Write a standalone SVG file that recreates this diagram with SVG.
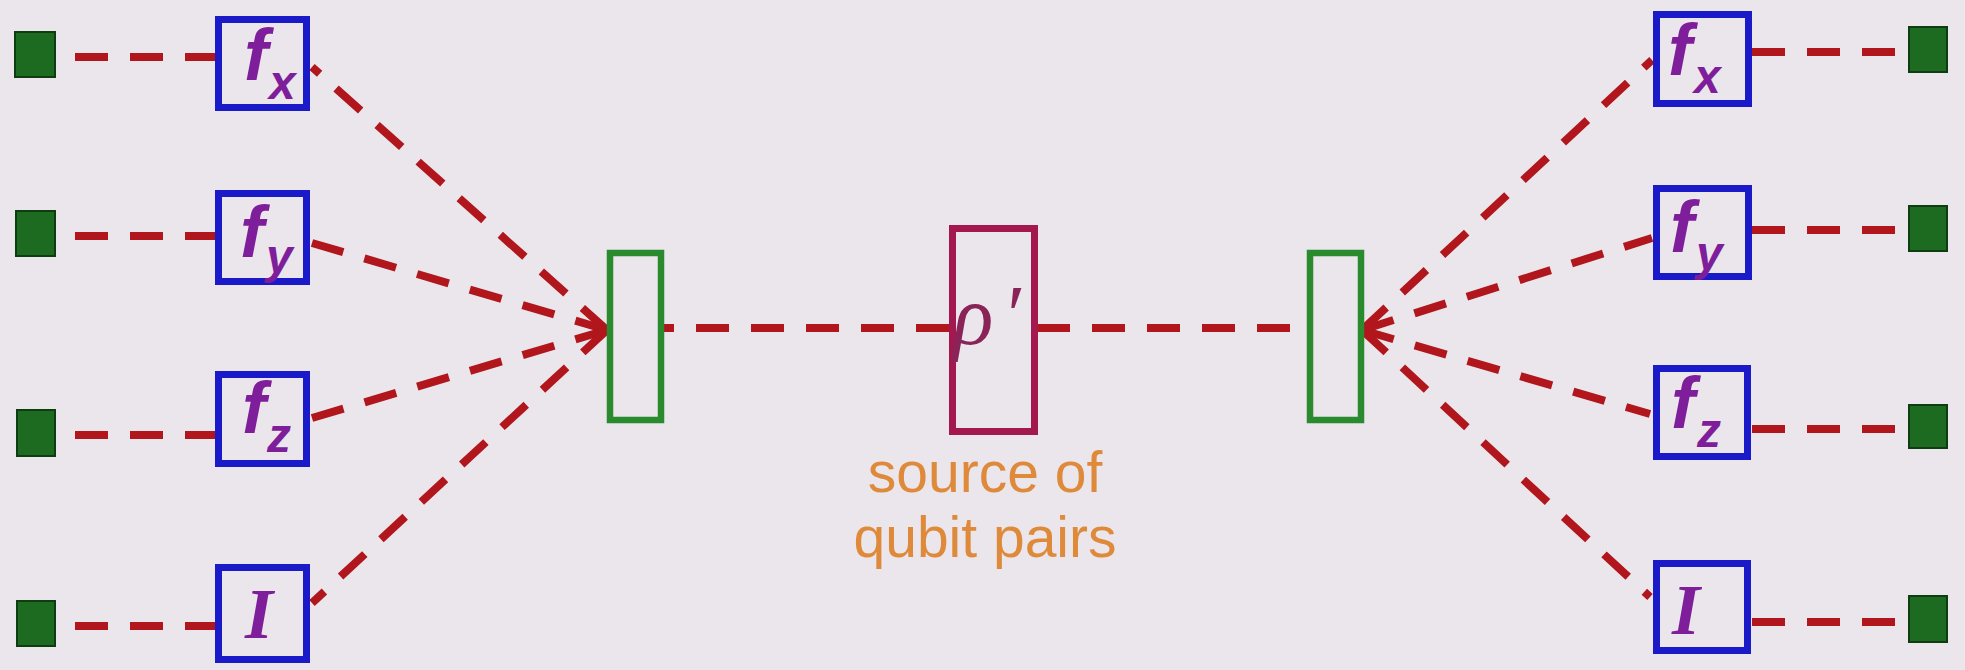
<svg xmlns="http://www.w3.org/2000/svg" width="1965" height="670" viewBox="0 0 1965 670">
  <style>
    .bg { fill: #eae6ec; }
    .det { fill: #1d6b20; stroke: #0f3d12; stroke-width: 2; }
    .meas { fill: none; stroke: #1a1ac8; stroke-width: 7; }
    .split { fill: none; stroke: #2a8a2e; stroke-width: 6.5; }
    .src { fill: none; stroke: #a3184e; stroke-width: 7; }
    .conn { fill: none; stroke: #b0161c; stroke-width: 8; stroke-dasharray: 33 22; }
    .lbl { fill: #7e1e9a; font-family: 'Liberation Sans', Arial, sans-serif; font-weight: bold; font-style: italic; }
    .f { font-size: 72px; }
    .sub { font-size: 48px; }
    .ident { fill: #7e1e9a; font-family: 'Liberation Serif', 'Times New Roman', serif; font-weight: bold; font-style: italic; font-size: 72px; }
    .rho { fill: #8a2458; font-family: 'Liberation Serif', 'Times New Roman', serif; font-style: italic; font-size: 84px; }
    .cap { fill: #de8a3a; font-family: 'Liberation Sans', Arial, sans-serif; font-size: 57px; text-anchor: middle; }
  </style>
  <rect class="bg" x="0" y="0" width="1965" height="670"/>

  <g id="connectors">
    <line class="conn" x1="218" y1="57" x2="73" y2="57"/>
    <line class="conn" x1="218" y1="236" x2="73" y2="236"/>
    <line class="conn" x1="218" y1="435" x2="73" y2="435"/>
    <line class="conn" x1="218" y1="626" x2="73" y2="626"/>
    <line class="conn" x1="1752" y1="52" x2="1900" y2="52"/>
    <line class="conn" x1="1752" y1="230" x2="1900" y2="230"/>
    <line class="conn" x1="1752" y1="429" x2="1900" y2="429"/>
    <line class="conn" x1="1752" y1="622" x2="1900" y2="622"/>
    <line class="conn" x1="607" y1="330" x2="312" y2="67"/>
    <line class="conn" x1="607" y1="330" x2="312" y2="243"/>
    <line class="conn" x1="607" y1="330" x2="312" y2="418"/>
    <line class="conn" x1="607" y1="330" x2="312" y2="603"/>
    <line class="conn" x1="1362" y1="330" x2="1652" y2="60"/>
    <line class="conn" x1="1362" y1="330" x2="1652" y2="238"/>
    <line class="conn" x1="1362" y1="330" x2="1650" y2="414"/>
    <line class="conn" x1="1362" y1="330" x2="1650" y2="597"/>
    <line class="conn" x1="949" y1="328" x2="664" y2="328"/>
    <line class="conn" x1="1037" y1="328" x2="1307" y2="328"/>
  </g>

  <g id="det-left-x"><rect class="det" x="15" y="32" width="40" height="45"/></g>
  <g id="det-left-y"><rect class="det" x="16" y="211" width="39" height="45"/></g>
  <g id="det-left-z"><rect class="det" x="17" y="410" width="38" height="46"/></g>
  <g id="det-left-i"><rect class="det" x="17" y="601" width="38" height="45"/></g>

  <g id="meas-left-x">
    <rect class="meas" x="218.5" y="19.5" width="88" height="88"/>
    <text class="lbl f" x="244" y="80">f</text>
    <text class="lbl sub" x="269" y="99">x</text>
  </g>
  <g id="meas-left-y">
    <rect class="meas" x="218.5" y="193.5" width="88" height="88"/>
    <text class="lbl f" x="240" y="257">f</text>
    <text class="lbl sub" x="266" y="273">y</text>
  </g>
  <g id="meas-left-z">
    <rect class="meas" x="218.5" y="374.5" width="88" height="89"/>
    <text class="lbl f" x="242" y="433">f</text>
    <text class="lbl sub" x="267" y="452">z</text>
  </g>
  <g id="meas-left-i">
    <rect class="meas" x="218.5" y="567.5" width="88" height="92"/>
    <text class="ident" x="245" y="638">I</text>
  </g>

  <g id="split-left"><rect class="split" x="610" y="253" width="51" height="167"/></g>

  <g id="source">
    <rect class="src" x="952.5" y="228.5" width="82" height="203"/>
    <text class="rho" x="953" y="344">ρ<tspan x="1002" y="344">′</tspan></text>
    <text class="cap" x="985" y="492">source of</text>
    <text class="cap" x="985" y="557">qubit pairs</text>
  </g>

  <g id="split-right"><rect class="split" x="1310" y="253" width="51" height="167"/></g>

  <g id="meas-right-x">
    <rect class="meas" x="1656.5" y="14.5" width="92" height="89"/>
    <text class="lbl f" x="1668" y="75">f</text>
    <text class="lbl sub" x="1694" y="93">x</text>
  </g>
  <g id="meas-right-y">
    <rect class="meas" x="1656.5" y="188.5" width="92" height="88"/>
    <text class="lbl f" x="1670" y="252">f</text>
    <text class="lbl sub" x="1696" y="270">y</text>
  </g>
  <g id="meas-right-z">
    <rect class="meas" x="1656.5" y="368.5" width="91" height="88"/>
    <text class="lbl f" x="1671" y="428">f</text>
    <text class="lbl sub" x="1697" y="447">z</text>
  </g>
  <g id="meas-right-i">
    <rect class="meas" x="1656.5" y="563.5" width="91" height="87"/>
    <text class="ident" x="1672" y="634">I</text>
  </g>

  <g id="det-right-x"><rect class="det" x="1909" y="27" width="38" height="45"/></g>
  <g id="det-right-y"><rect class="det" x="1909" y="206" width="38" height="45"/></g>
  <g id="det-right-z"><rect class="det" x="1909" y="405" width="38" height="43"/></g>
  <g id="det-right-i"><rect class="det" x="1909" y="596" width="38" height="46"/></g>
</svg>
